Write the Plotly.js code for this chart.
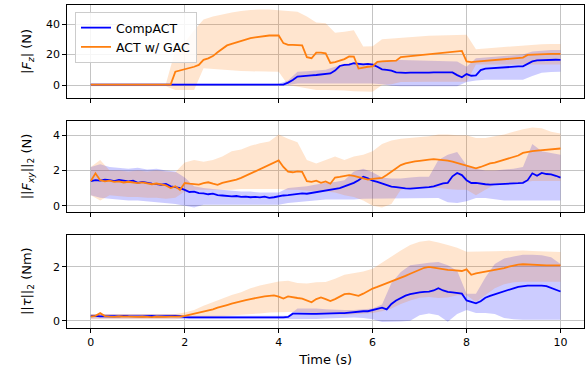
<!DOCTYPE html>
<html>
<head>
<meta charset="utf-8">
<script src="https://cdn.plot.ly/plotly-3.0.1.min.js"></script>
<style>html,body{margin:0;padding:0;background:#fff;}#chart{width:587px;height:374px;}</style>
</head>
<body>
<div id="chart"></div>
<script>
// time grids (axis positions, s)
const tMean = Array.from({length: 101}, (_, i) => i / 10);
const tBand = Array.from({length: 51}, (_, i) => i / 5);

const seriesNames = ['CompACT', 'ACT w/ GAC'];
const xTicks = [0, 2, 4, 6, 8, 10];
const yTicks1 = [0, 20, 40];
const yTicks2 = [0, 2, 4];
const yTicks3 = [0, 2];

// ---- Panel 1: |Fz| (N) ----
const compactFz = [0.3,0.3,0.2,0.3,0.3,0.2,0.3,0.3,0.3,0.2,
 0.3,0.2,0.3,0.3,0.3,0.2,0.3,0.3,0.2,0.3,
 0.3,0.3,0.3,0.3,0.3,0.3,0.3,0.3,0.3,0.3,
 0.3,0.3,0.3,0.3,0.3,0.3,0.3,0.3,0.3,0.3,
 0.3,0.3,1.6,3.3,5.6,6.0,6.2,6.4,6.6,7.0,
 7.3,7.6,9.5,12.5,13.2,13.4,14.3,13.8,13.6,13.9,
 13.4,12.0,10.3,9.9,9.5,8.3,8.1,8.0,8.2,8.1,
 8.0,8.2,8.1,8.3,8.2,8.3,8.2,8.3,6.5,5.1,
 7.2,6.1,6.3,9.8,10.8,11.0,11.2,11.8,12.0,12.0,
 12.1,12.2,12.3,13.8,15.5,16.2,16.4,16.5,16.5,16.6,
 16.5];
const gacFz = [0.3,0.3,0.4,0.3,0.3,0.3,0.4,0.3,0.3,0.3,
 0.3,0.3,0.3,0.4,0.3,0.3,0.3,0.3,8.8,9.5,
 10.4,11.2,12.0,13.2,16.5,17.5,19.0,21.5,24.0,26.0,
 27.0,28.0,29.3,30.1,30.8,31.3,31.8,32.2,32.5,32.6,
 32.5,27.5,26.4,26.3,26.2,26.0,18.3,17.6,21.3,21.3,
 20.8,14.5,15.0,16.0,17.0,18.8,18.7,10.8,11.5,12.0,
 12.3,15.2,15.5,15.7,15.8,16.0,18.3,18.6,19.0,19.3,
 19.6,20.0,20.3,20.6,21.0,21.3,21.6,22.0,22.2,22.4,
 15.5,15.0,15.3,15.6,16.0,16.3,16.6,16.9,17.2,17.4,
 17.6,17.8,18.0,19.8,20.0,20.2,20.3,20.4,20.5,20.5,
 20.5];
const compactFzHi = [0.8,0.8,0.8,0.8,0.8,0.8,0.8,0.8,0.8,0.8,
 0.8,0.8,0.8,0.8,0.8,0.8,0.8,0.8,0.8,0.8,
 0.8,3,8.8,9,9.5,10,12,14,14.5,14.3,
 14.3,16,16.5,16.5,16.3,16.2,16,15.8,15.6,15.5,
 12,17.5,18,18.5,19,19.5,20,22,22.5,23,23];
const compactFzLo = [-0.2,-0.2,-0.2,-0.2,-0.2,-0.2,-0.2,-0.2,-0.2,-0.2,
 -0.2,-0.2,-0.2,-0.2,-0.2,-0.2,-0.2,-0.2,-0.2,-0.2,
 -0.2,0,1,1,1,1,1,1,1,1,
 1,0.5,-0.5,-0.8,-0.8,-0.8,-0.8,-0.8,-0.8,-0.8,
 2,3,3.5,3.5,3.5,3.5,3.5,6,8,8.5,8.8];
const gacFzHi = [0.8,0.8,0.8,0.8,0.8,0.8,0.8,0.8,0.8,
 23,28,36,43,45,46.5,47.5,48.5,49.3,49.5,49.5,
 49,48.5,48,45,41,40.5,34.3,35,36,25.3,
 25.5,30,30.5,31,31.5,32,32.3,32.5,32.8,33,
 33,23.5,24,24.5,25,25.5,26,26.5,26.8,27,27];
const gacFzLo = [-0.8,-0.8,-0.8,-0.8,-0.8,-0.8,-0.8,-0.8,-0.8,
 -3.3,-3.3,-3.3,11,10.5,10,9.5,9.2,9,8.8,8.8,
 8.8,0,-1,-2,-3.3,-3.3,-3.3,-3.5,-4,-4.4,
 -4.4,0,0.5,2,2.2,2.2,2.2,2.2,2.2,2.2,
 2.2,13.5,13.5,13.5,13.5,13.5,13.5,13.5,13.5,13.5,13.5];

// ---- Panel 2: ||Fxy||2 (N) ----
const compactFxy = [1.40,1.45,1.42,1.48,1.45,1.40,1.47,1.43,1.38,1.42,
 1.30,1.35,1.28,1.25,1.22,1.19,1.23,1.10,1.05,1.00,
 0.90,0.78,0.80,0.72,0.70,0.65,0.68,0.60,0.58,0.55,
 0.53,0.55,0.50,0.52,0.48,0.50,0.47,0.52,0.45,0.48,
 0.55,0.58,0.60,0.63,0.65,0.70,0.68,0.72,0.76,0.80,
 0.85,0.90,0.95,1.00,1.10,1.18,1.30,1.45,1.65,1.55,
 1.42,1.35,1.25,1.15,1.08,1.05,1.00,0.98,0.97,0.99,
 0.98,1.02,1.05,1.10,1.20,1.27,1.30,1.67,1.86,1.74,
 1.45,1.29,1.30,1.25,1.22,1.20,1.22,1.25,1.27,1.26,
 1.27,1.28,1.30,1.45,1.84,1.70,1.86,1.80,1.78,1.70,
 1.60];
const gacFxy = [1.40,1.84,1.45,1.38,1.42,1.35,1.38,1.32,1.36,1.30,
 1.28,1.32,1.25,1.22,1.26,1.20,1.15,1.00,1.10,0.90,
 1.29,1.25,1.23,1.20,1.28,1.33,1.25,1.19,1.30,1.35,
 1.41,1.48,1.58,1.70,1.82,1.95,2.05,2.18,2.30,2.43,
 2.57,2.20,1.93,1.90,1.95,1.93,1.40,1.36,1.42,1.30,
 1.38,1.25,1.60,1.64,1.70,1.74,1.70,1.64,1.55,1.48,
 1.52,1.55,1.58,1.75,1.93,2.10,2.31,2.40,2.48,2.52,
 2.55,2.60,2.62,2.65,2.63,2.60,2.56,2.50,2.43,2.37,
 2.30,2.20,2.12,2.20,2.31,2.40,2.45,2.53,2.60,2.68,
 2.73,2.85,3.00,3.06,3.10,3.13,3.15,3.18,3.20,3.22,
 3.25];
const compactFxyHi = [2.2,2.35,2.2,2.15,2.1,2.15,2.05,2.1,2.0,1.95,
 1.6,1.1,1.0,0.95,0.9,0.85,0.8,0.8,0.75,0.75,
 0.75,1.0,1.05,1.1,1.2,1.3,1.35,1.45,1.95,2.1,
 1.9,1.6,1.55,1.55,1.6,1.65,1.65,2.6,2.9,3.05,
 2.3,2.1,2.0,2.0,2.05,2.1,2.2,3.5,3.1,3.0,2.9];
const compactFxyLo = [0.6,0.45,0.4,0.35,0.3,0.3,0.25,0.2,0.15,0.1,
 0.0,-0.1,0.05,0.05,0.06,0.06,0.06,0.06,0.06,0.06,
 0.06,0.15,0.2,0.25,0.3,0.35,0.35,0.35,0.35,0.4,
 0.4,0.44,0.44,0.44,0.44,0.44,0.44,0.44,0.2,0.15,
 0.25,0.44,0.44,0.35,0.3,0.3,0.3,0.3,0.3,0.3,0.3];
const gacFxyHi = [2.2,2.6,2.0,2.0,1.95,2.0,1.95,2.0,1.95,1.9,
 2.45,2.6,2.5,2.6,2.8,3.1,3.2,3.4,3.55,3.65,
 4.05,3.8,3.6,2.6,2.4,2.6,2.8,2.6,2.8,2.9,
 3.1,3.5,3.7,3.8,3.85,3.9,3.95,4.05,4.05,4.0,
 4.0,3.85,3.85,3.95,4.05,4.2,4.35,4.45,4.4,4.2,4.1];
const gacFxyLo = [0.6,0.3,0.6,0.55,0.5,0.5,0.45,0.45,0.4,0.45,
 0.8,0.9,0.9,0.9,0.9,0.9,0.95,0.95,0.95,0.95,
 0.95,0.9,0.9,0.85,0.8,0.8,0.75,0.6,0.5,0.3,
 0.0,-0.1,0.1,0.9,1.0,1.0,1.0,1.0,0.95,0.9,
 0.9,0.6,0.9,1.2,1.2,1.25,1.3,1.4,1.4,1.4,1.4];

// ---- Panel 3: ||tau||2 (Nm) ----
const compactTau = [0.17,0.18,0.16,0.17,0.18,0.17,0.16,0.18,0.17,0.16,
 0.17,0.16,0.17,0.18,0.16,0.17,0.16,0.17,0.18,0.17,
 0.13,0.12,0.12,0.11,0.12,0.12,0.11,0.12,0.11,0.11,
 0.11,0.11,0.10,0.11,0.11,0.10,0.11,0.11,0.11,0.12,
 0.12,0.12,0.14,0.26,0.26,0.25,0.26,0.25,0.25,0.26,
 0.26,0.26,0.27,0.28,0.28,0.30,0.32,0.34,0.35,0.35,
 0.40,0.45,0.48,0.42,0.62,0.75,0.85,0.93,0.98,1.02,
 1.05,1.07,1.08,1.12,1.20,1.12,1.07,1.05,1.02,1.00,
 0.75,0.68,0.64,0.72,0.85,0.92,0.98,1.04,1.10,1.16,
 1.20,1.25,1.28,1.30,1.30,1.31,1.30,1.28,1.22,1.16,
 1.08];
const gacTau = [0.15,0.18,0.28,0.17,0.15,0.14,0.16,0.15,0.14,0.15,
 0.14,0.15,0.14,0.13,0.15,0.14,0.14,0.15,0.14,0.15,
 0.18,0.22,0.25,0.28,0.32,0.38,0.42,0.48,0.54,0.58,
 0.63,0.68,0.72,0.76,0.80,0.84,0.87,0.90,0.92,0.94,
 0.89,0.82,0.90,0.86,0.84,0.82,0.75,0.68,0.80,0.86,
 0.80,0.73,0.80,0.90,0.98,1.00,0.96,0.92,1.00,1.10,
 1.19,1.25,1.32,1.38,1.44,1.50,1.58,1.66,1.74,1.82,
 1.90,1.96,1.99,1.96,1.92,1.90,1.88,1.87,1.86,1.84,
 1.90,1.70,1.75,1.78,1.82,1.85,1.88,1.92,1.95,2.00,
 2.05,2.08,2.09,2.08,2.06,2.05,2.05,2.05,2.05,2.05,
 2.05];
const compactTauHi = [0.25,0.25,0.25,0.25,0.25,0.25,0.25,0.25,0.25,0.25,
 0.18,0.18,0.18,0.18,0.18,0.18,0.18,0.18,0.18,0.18,0.18,0.18,
 0.45,0.45,0.45,0.42,0.4,0.4,0.4,0.42,0.45,
 0.6,1.4,1.8,2.05,2.1,2.15,2.17,2.05,1.85,1.0,
 1.0,1.6,2.1,2.3,2.38,2.44,2.44,2.42,2.35,2.1];
const compactTauLo = [0.08,0.08,0.08,0.08,0.08,0.08,0.08,0.08,0.08,0.08,
 0.05,0.05,0.05,0.05,0.05,0.05,0.05,0.05,0.05,0.05,0.05,0.05,
 0.05,0.05,0.06,0.08,0.1,0.1,0.12,0.1,0.05,
 -0.05,-0.05,-0.03,0.0,0.2,0.27,0.2,-0.04,0.25,0.4,
 0.28,0.28,0.25,0.1,0.05,0.03,0.03,0.03,0.03,0.03];
const gacTauHi = [0.25,0.25,0.25,0.25,0.25,0.25,0.25,0.25,0.25,0.25,
 0.3,0.4,0.55,0.68,0.82,0.95,1.05,1.2,1.3,1.38,
 1.45,1.48,1.4,1.38,1.42,1.43,1.55,1.7,1.75,1.82,
 1.92,2.15,2.36,2.6,2.8,2.92,2.97,2.9,2.8,2.7,
 2.55,2.55,2.56,2.57,2.58,2.6,2.6,2.58,2.56,2.55,2.54];
const gacTauLo = [0.05,0.05,0.05,0.05,0.05,0.05,0.05,0.05,0.05,0.05,
 0.12,0.14,0.14,0.15,0.17,0.2,0.22,0.25,0.27,0.3,
 0.32,0.32,0.32,0.3,0.28,0.24,0.22,0.22,0.24,0.26,
 0.28,0.35,0.45,0.62,0.75,0.85,0.88,0.84,0.86,0.94,
 0.94,0.69,0.95,1.2,1.35,1.42,1.44,1.44,1.44,1.44,1.44];

const BLUE = '#0000ff', ORANGE = '#ff7f0e';
const BLUE_FILL = 'rgba(0,0,255,0.2)', ORANGE_FILL = 'rgba(255,127,14,0.2)';

function band(lo, hi, fill, xa, ya) {
  return [
    {x: tBand, y: lo, xaxis: xa, yaxis: ya, type: 'scatter', mode: 'lines', line: {width: 0}, showlegend: false, hoverinfo: 'skip'},
    {x: tBand, y: hi, xaxis: xa, yaxis: ya, type: 'scatter', mode: 'lines', line: {width: 0}, fill: 'tonexty', fillcolor: fill, showlegend: false, hoverinfo: 'skip'}
  ];
}
function meanLine(y, color, name, xa, ya, show) {
  return {x: tMean, y: y, xaxis: xa, yaxis: ya, type: 'scatter', mode: 'lines', name: name,
    line: {color: color, width: 1.8}, showlegend: show, legendgroup: name};
}

const data = [].concat(
  band(compactFzLo, compactFzHi, BLUE_FILL, 'x', 'y'),
  band(gacFzLo, gacFzHi, ORANGE_FILL, 'x', 'y'),
  band(compactFxyLo, compactFxyHi, BLUE_FILL, 'x2', 'y2'),
  band(gacFxyLo, gacFxyHi, ORANGE_FILL, 'x2', 'y2'),
  band(compactTauLo, compactTauHi, BLUE_FILL, 'x3', 'y3'),
  band(gacTauLo, gacTauHi, ORANGE_FILL, 'x3', 'y3'),
  [meanLine(compactFz, BLUE, seriesNames[0], 'x', 'y', true),
   meanLine(gacFz, ORANGE, seriesNames[1], 'x', 'y', true),
   meanLine(compactFxy, BLUE, seriesNames[0], 'x2', 'y2', false),
   meanLine(gacFxy, ORANGE, seriesNames[1], 'x2', 'y2', false),
   meanLine(compactTau, BLUE, seriesNames[0], 'x3', 'y3', false),
   meanLine(gacTau, ORANGE, seriesNames[1], 'x3', 'y3', false)]
);

const W = 587, H = 374;
const xDom = [67.3 / W, 584 / W];
const GRID = '#c4c4c4';
function xa(anchor, labels) {
  return {domain: xDom, anchor: anchor, range: [-0.5, 10.5], tickvals: xTicks, showticklabels: labels,
    ticks: 'outside', ticklen: 4, tickcolor: '#000', showgrid: true, gridcolor: GRID, gridwidth: 1,
    showline: true, mirror: true, linecolor: '#000', linewidth: 1, zeroline: false, tickfont: {size: 11}};
}
function ya(top, bottom, range, ticks, title, anchor) {
  return {domain: [(H - bottom) / H, (H - top) / H], anchor: anchor, range: range, tickvals: ticks,
    ticks: 'outside', ticklen: 4, tickcolor: '#000', showgrid: true, gridcolor: GRID, gridwidth: 1,
    showline: true, mirror: true, linecolor: '#000', linewidth: 1, zeroline: false, tickfont: {size: 11},
    title: {text: title, font: {size: 13}}};
}

const layout = {
  width: W, height: H, margin: {l: 0, r: 0, t: 0, b: 0},
  paper_bgcolor: '#fff', plot_bgcolor: '#fff',
  font: {family: 'DejaVu Sans, sans-serif', size: 11, color: '#000'},
  showlegend: true,
  legend: {x: 75 / W, y: 1 - 12 / H, xanchor: 'left', yanchor: 'top', bgcolor: 'rgba(255,255,255,0.85)',
    bordercolor: '#cccccc', borderwidth: 1, font: {size: 12.5}, itemwidth: 30, traceorder: 'normal'},
  xaxis: xa('y', false),
  xaxis2: xa('y2', false),
  xaxis3: Object.assign(xa('y3', true), {title: {text: 'Time (s)', font: {size: 13}, standoff: 6}}),
  yaxis: ya(5, 97.7, [-8.3, 52.5], yTicks1, '|<i>F<sub>z</sub></i>| (N)', 'x'),
  yaxis2: ya(120.7, 212.3, [-0.375, 4.83], yTicks2, '||<i>F<sub>xy</sub></i>||<sub>2</sub> (N)', 'x2'),
  yaxis3: ya(234.7, 327.7, [-0.26, 3.185], yTicks3, '||<i>τ</i>||<sub>2</sub> (Nm)', 'x3')
};

Plotly.newPlot('chart', data, layout, {staticPlot: true, displayModeBar: false});
</script>
</body>
</html>
